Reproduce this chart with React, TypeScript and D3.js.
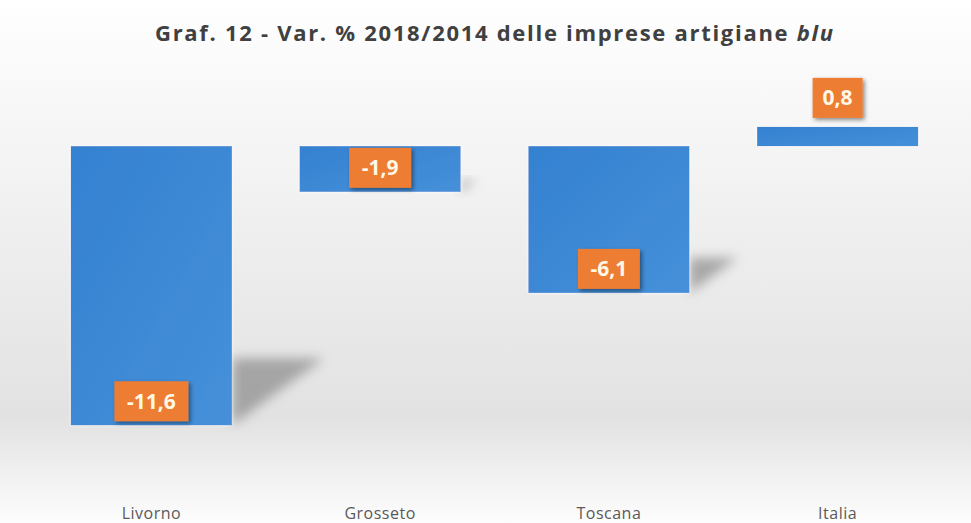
import React from "react";
import * as d3 from "d3";

const categories = ["Livorno", "Grosseto", "Toscana", "Italia"];
const values = [-11.6, -1.9, -6.1, 0.8];
const valueLabels = ["-11,6", "-1,9", "-6,1", "0,8"];
const titleMain = "Graf. 12 - Var. % 2018/2014 delle imprese artigiane ";
const titleItalic = "blu";

const W = 971;
const H = 523;

export default function App() {
  const x = d3.scaleBand<string>().domain(categories).range([37, 952]).paddingInner(0.296).paddingOuter(0.148);
  const y = d3.scaleLinear().domain([-14, 2]).range([483, 98]);
  const y0 = y(0);

  return (
    <svg
      width={W}
      height={H}
      style={{ position: "absolute", left: 0, top: 0, display: "block" }}
      fontFamily="'Open Sans', sans-serif"
    >
      <defs>
        <linearGradient id="bg" x1="0" y1="0" x2="0" y2="1">
          <stop offset="0" stopColor="#ffffff" />
          <stop offset="0.1" stopColor="#fbfbfb" />
          <stop offset="0.8" stopColor="#e2e2e2" />
          <stop offset="1" stopColor="#fdfdfd" />
        </linearGradient>
        <linearGradient id="barFill" x1="0" y1="0" x2="1" y2="1">
          <stop offset="0" stopColor="#3481d1" />
          <stop offset="1" stopColor="#4690d9" />
        </linearGradient>
        <filter id="shadowBlur" x="-50%" y="-50%" width="200%" height="200%">
          <feGaussianBlur stdDeviation="6" />
        </filter>
        <filter id="labelShadow" x="-30%" y="-30%" width="160%" height="160%">
          <feDropShadow dx="2" dy="2" stdDeviation="2" floodColor="#000" floodOpacity="0.45" />
        </filter>
        <filter id="barGlow" x="-10%" y="-10%" width="120%" height="120%">
          <feDropShadow dx="0" dy="0" stdDeviation="1.5" floodColor="#ffffff" floodOpacity="0.9" />
        </filter>
      </defs>

      <rect x={0} y={0} width={W} height={H} fill="url(#bg)" />

      <text
        x={494}
        y={41}
        textAnchor="middle"
        fontSize={22}
        fontWeight={700}
        fill="#404040"
        textLength={678}
        lengthAdjust="spacing"
      >
        {titleMain}
        <tspan fontStyle="italic">{titleItalic}</tspan>
      </text>

      {/* perspective shadows */}
      {categories.map((c, i) => {
        const v = values[i];
        if (v >= 0) return null;
        const right = (x(c) as number) + x.bandwidth();
        const bottom = y(v);
        const h = bottom - y0;
        const pts = [
          [right, bottom - 0.24 * h],
          [right + 0.33 * h, bottom - 0.24 * h],
          [right, bottom],
        ];
        return (
          <polygon
            key={"s" + c}
            points={pts.map((p) => p.join(",")).join(" ")}
            fill="#8a8a8a"
            opacity={0.7}
            filter="url(#shadowBlur)"
          />
        );
      })}

      {/* bars */}
      {categories.map((c, i) => {
        const v = values[i];
        const top = Math.min(y(v), y0);
        const h = Math.abs(y(v) - y0);
        return (
          <rect
            key={"b" + c}
            x={x(c)}
            y={top}
            width={x.bandwidth()}
            height={h}
            fill="url(#barFill)"
            filter="url(#barGlow)"
          />
        );
      })}

      {/* data labels */}
      {categories.map((c, i) => {
        const v = values[i];
        const cx = (x(c) as number) + x.bandwidth() / 2;
        const cy = v < 0 ? y(v) - 24 : y(v) - 29;
        const label = valueLabels[i];
        const bw = label.length * 12 + 14;
        const bh = 40;
        return (
          <g key={"l" + c}>
            <rect x={cx - bw / 2} y={cy - bh / 2} width={bw} height={bh} fill="#ed7d31" filter="url(#labelShadow)" />
            <text x={cx} y={cy} dy="0.36em" textAnchor="middle" fontSize={21} fontWeight={700} fill="#fff8e6">
              {label}
            </text>
          </g>
        );
      })}

      {/* category axis labels */}
      {categories.map((c) => (
        <text
          key={"c" + c}
          x={(x(c) as number) + x.bandwidth() / 2}
          y={519}
          textAnchor="middle"
          fontSize={16}
          fill="#595959"
          letterSpacing={0.5}
        >
          {c}
        </text>
      ))}
    </svg>
  );
}
